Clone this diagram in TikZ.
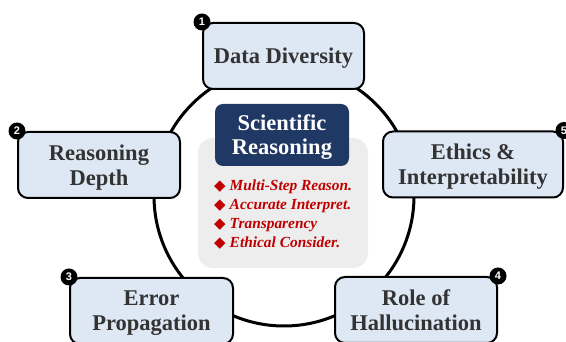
\documentclass[tikz,border=0pt]{standalone}
\usepackage{fontspec}
\setmainfont{Liberation Serif}
\newfontfamily\badgefont{Liberation Sans}
\newfontfamily\symfont{DejaVu Sans}
\usepackage{tikz}
\usetikzlibrary{
  positioning
}
\usepackage{color}
\definecolor{boxfill}{HTML}{DEE8F5}
\definecolor{navy}{HTML}{1F3864}
\definecolor{panelgray}{HTML}{EDEDED}
\definecolor{darkred}{HTML}{C00000}
\definecolor{textgray}{HTML}{333333}
\newcommand{\dmd}{{\symfont\fontsize{15}{15}\selectfont\char"25C6}\hspace{4pt}}

\begin{document}
\begin{tikzpicture}[
      x=1pt,y=1pt,
      topic/.style={
         rectangle,
         rounded corners=10pt,
         minimum height=66pt,
         line width=2pt,
         draw=black,
         fill=boxfill,
         text=textgray,
         align=center,
         text depth=0pt,
         font=\bfseries\fontsize{22.5}{25}\selectfont
      },
      badge/.style={
         circle,
         inner sep=0pt,
         minimum size=17pt,
         fill=black,
         text=white,
         font=\badgefont\bfseries\fontsize{11}{11}\selectfont
      },
      hub/.style={
         rectangle,
         rounded corners=8pt,
         minimum width=134pt,
         minimum height=62pt,
         fill=navy,
         text=white,
         align=center,
         text depth=0pt,
         font=\bfseries\fontsize{22.5}{24}\selectfont
      },
      panel/.style={
         rectangle,
         rounded corners=15pt,
         minimum width=170pt,
         minimum height=130pt,
         fill=panelgray
      },
      bullets/.style={
         inner sep=0pt,
         align=left,
         text=darkred,
         font=\bfseries\itshape\fontsize{15.4}{18.8}\selectfont
      },
      ring/.style={circle, draw=black, line width=3pt, inner sep=0pt, minimum size=260pt}
    ]
    \useasboundingbox (0,0) rectangle (566,342);
    \node (r0) [ring] at (284,146) {};
    \node (p0) [panel] at (283,139) {};
    \node (h0) [hub] at (282,207) {Scientific\\Reasoning};
    \node (l0) [bullets, anchor=north west] at (214,162) {\dmd Multi-Step Reason.\\\dmd Accurate Interpret.\\\dmd Transparency\\\dmd Ethical Consider.};
    \node (n1) [topic, minimum width=161pt] at (283.5,286) {Data Diversity};
    \node (n2) [topic, minimum width=162pt] at (99,177) {Reasoning\\Depth};
    \node (n3) [topic, minimum width=163pt] at (151.5,31) {Error\\Propagation};
    \node (n4) [topic, minimum width=162pt] at (416,32) {Role of\\Hallucination};
    \node (n5) [topic, minimum width=180pt] at (473,177.5) {Ethics \&\\Interpretability};
    \node (b1) [badge] at (n1.north west) {1};
    \node (b2) [badge] at (n2.north west) {2};
    \node (b3) [badge] at (n3.north west) {3};
    \node (b4) [badge] at (n4.north east) {4};
    \node (b5) [badge] at (n5.north east) {5};
\end{tikzpicture}
\end{document}
